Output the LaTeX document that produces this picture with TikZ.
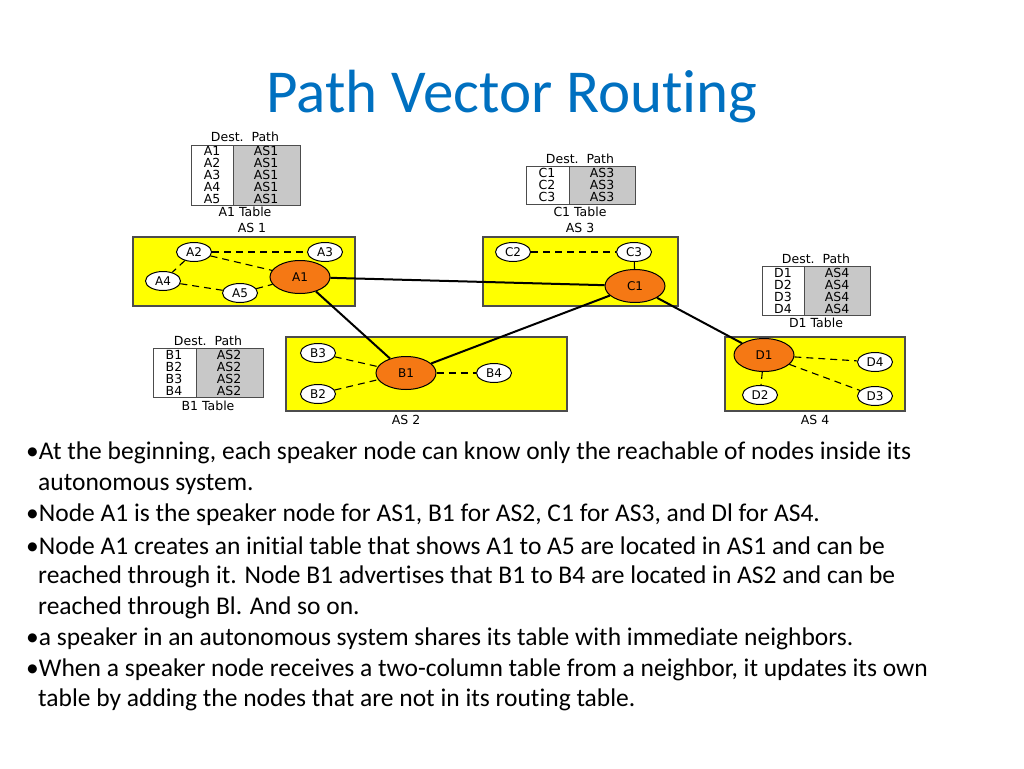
\documentclass[tikz,border=0pt]{standalone}
\usepackage{fontspec}
\setmainfont[Ligatures={NoCommon}]{Carlito}
\newfontfamily\djsans{DejaVu Sans}
\usetikzlibrary{shapes.geometric}
\definecolor{ttl}{RGB}{0,112,192}
\definecolor{org}{RGB}{245,120,20}
\definecolor{yel}{RGB}{255,255,0}
\definecolor{gr}{RGB}{200,200,200}
\begin{document}
\begin{tikzpicture}[x=1pt,y=-1pt,
 as/.style={draw=black!70,fill=yel,line width=1.2pt},
 sm/.style={ellipse,draw,fill=white,line width=1pt,minimum width=35pt,minimum height=19pt,inner sep=0pt,font=\djsans\fontsize{12}{12}\selectfont},
 sp/.style={ellipse,draw,fill=org,line width=1pt,minimum width=60pt,minimum height=33pt,inner sep=0pt,font=\djsans\fontsize{12}{12}\selectfont},
 lk/.style={line width=2pt},
 dl/.style={line width=1.1pt,dash pattern=on 7pt off 5pt},
 tx/.style={font=\djsans\fontsize{12.5}{12.5}\selectfont,inner sep=0pt},
 bt/.style={anchor=west,inner sep=0pt,font=\fontsize{25.5}{25.5}\selectfont}]
\useasboundingbox (0,0) rectangle (1024,768);
\node[font=\fontsize{61}{61}\selectfont,text=ttl] (title) at (512,97) {Path Vector Routing};
% AS boxes
\draw[as] (133,237) rectangle (355,306);
\draw[as] (483,237) rectangle (678,306);
\draw[as] (286,337) rectangle (567,411);
\draw[as] (725,337) rectangle (905,411);
\node[tx] (l1) at (252,228) {AS 1};
\node[tx] (l3) at (580,228) {AS 3};
\node[tx] (l2) at (406,420) {AS 2};
\node[tx] (l4) at (815,420) {AS 4};
% nodes
\node[sm] (A2) at (194,252) {A2};
\node[sm] (A3) at (325,252) {A3};
\node[sm] (A4) at (163,281) {A4};
\node[sm] (A5) at (240,293) {A5};
\node[sp] (A1) at (300,277) {A1};
\node[sm] (C2) at (513,252) {C2};
\node[sm] (C3) at (634,252) {C3};
\node[sp] (C1) at (635,286) {C1};
\node[sm] (B3) at (318,353) {B3};
\node[sm] (B2) at (318,394) {B2};
\node[sp] (B1) at (406,373) {B1};
\node[sm] (B4) at (494,373) {B4};
\node[sp] (D1) at (764,355) {D1};
\node[sm] (D4) at (875,362) {D4};
\node[sm] (D2) at (760,395) {D2};
\node[sm] (D3) at (875,396) {D3};
\draw[dl] (A2)--(A3); \draw[dl] (A2)--(A1); \draw[dl] (A2)--(A4);
\draw[dl] (A4)--(A5); \draw[dl] (A5)--(A1);
\draw[dl] (C2)--(C3); \draw[dl] (C3)--(C1);
\draw[dl] (B3)--(B1); \draw[dl] (B2)--(B1); \draw[dl] (B1)--(B4);
\draw[dl] (D1)--(D4); \draw[dl] (D1)--(D3); \draw[dl] (D1)--(D2);
\draw[lk] (A1)--(C1); \draw[lk] (A1)--(B1); \draw[lk] (B1)--(C1); \draw[lk] (C1)--(D1);
% A1 table
\fill[gr] (233,145) rectangle (300,205);
\draw[line width=1pt,black!70] (191,145) rectangle (300,205) (233,145)--(233,205);
\node[tx] (ah) at (245,137) {Dest.\ \ Path};
\foreach \n [count=\i] in {1,...,5}{\node[tx] (ta\n) at (212,139+12*\i) {A\n}; \node[tx] (pa\n) at (266,139+12*\i) {AS1};}
\node[tx] (ac) at (245,212) {A1 Table};
% C1 table
\fill[gr] (569,166) rectangle (635,204);
\draw[line width=1pt,black!70] (526,166) rectangle (635,204) (569,166)--(569,204);
\node[tx] (ch) at (580,159) {Dest.\ \ Path};
\foreach \n [count=\i] in {1,...,3}{\node[tx] (tc\n) at (547,161+12*\i) {C\n}; \node[tx] (pc\n) at (602,161+12*\i) {AS3};}
\node[tx] (cc) at (580,212) {C1 Table};
% D1 table
\fill[gr] (804,266) rectangle (870,315);
\draw[line width=1pt,black!70] (762,266) rectangle (870,315) (804,266)--(804,315);
\node[tx] (dh) at (816,259) {Dest.\ \ Path};
\foreach \n [count=\i] in {1,...,4}{\node[tx] (td\n) at (783,261+12*\i) {D\n}; \node[tx] (pd\n) at (837,261+12*\i) {AS4};}
\node[tx] (dc) at (816,323) {D1 Table};
% B1 table
\fill[gr] (196,348) rectangle (263,397);
\draw[line width=1pt,black!70] (153,348) rectangle (263,397) (196,348)--(196,397);
\node[tx] (bh) at (208,341) {Dest.\ \ Path};
\foreach \n [count=\i] in {1,...,4}{\node[tx] (tb\n) at (174,343+12*\i) {B\n}; \node[tx] (pb\n) at (229,343+12*\i) {AS2};}
\node[tx] (bc) at (208,406) {B1 Table};
% body text
\node[bt] (t1) at (26,453) {•At the beginning, each speaker node can know only the reachable of nodes inside its};
\node[bt] (t2) at (38,484) {autonomous system.};
\node[bt] (t3) at (26,515) {•Node A1 is the speaker node for AS1, B1 for AS2, C1 for AS3, and Dl for AS4.};
\node[bt] (t4) at (26,546) {•Node A1 creates an initial table that shows A1 to A5 are located in AS1 and can be};
\node[bt] (t5) at (38,577) {reached through it. Node B1 advertises that B1 to B4 are located in AS2 and can be};
\node[bt] (t6) at (38,608) {reached through Bl. And so on.};
\node[bt] (t7) at (26,639) {•a speaker in an autonomous system shares its table with immediate neighbors.};
\node[bt] (t8) at (26,670) {•When a speaker node receives a two-column table from a neighbor, it updates its own};
\node[bt] (t9) at (38,700) {table by adding the nodes that are not in its routing table.};
\end{tikzpicture}
\end{document}
